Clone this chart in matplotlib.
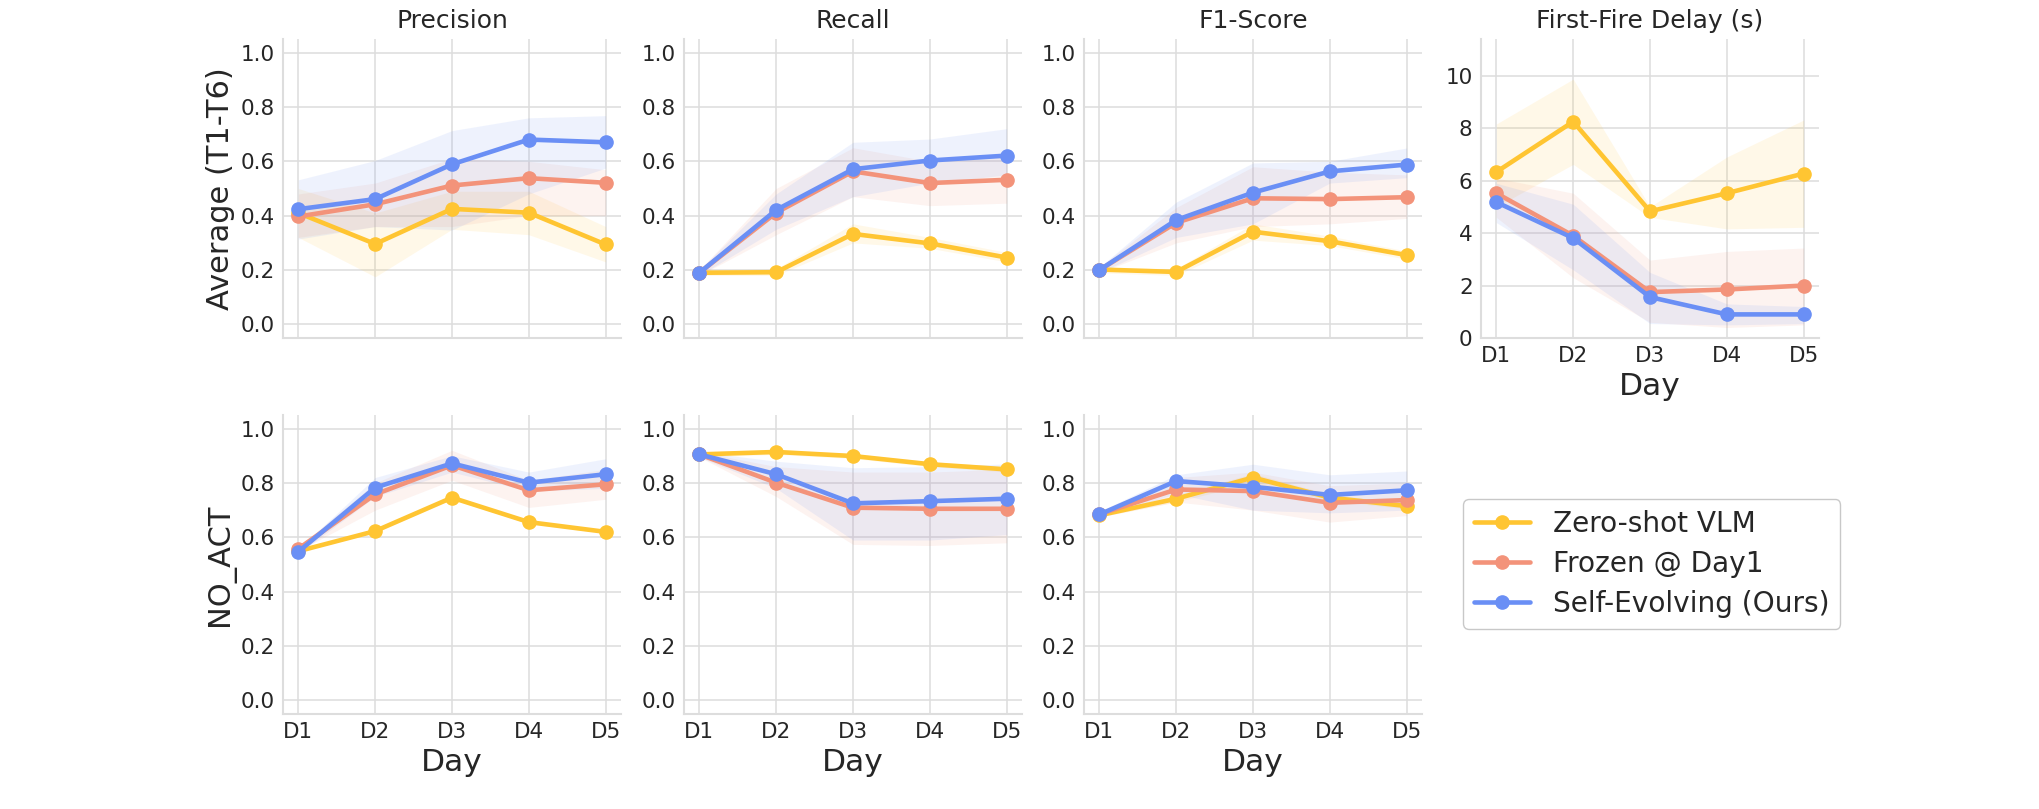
import matplotlib
matplotlib.use("Agg")
import matplotlib.pyplot as plt
import seaborn as sns

sns.set_style("whitegrid")
plt.rcParams["font.family"] = ["DejaVu Sans"]

days = ["D1", "D2", "D3", "D4", "D5"]
methods = ["Zero-shot VLM", "Frozen @ Day1", "Self-Evolving (Ours)"]
colors = ["#FFC532", "#F3937A", "#6A8FF5"]

# mean values per method (zero-shot, frozen, self-evolving)
avg_precision = [[0.41, 0.296, 0.425, 0.411, 0.294],
                 [0.397, 0.442, 0.511, 0.538, 0.521],
                 [0.424, 0.461, 0.589, 0.680, 0.670]]
avg_precision_lo = [[0.32, 0.175, 0.35, 0.33, 0.23],
                    [0.32, 0.36, 0.36, 0.40, 0.40],
                    [0.314, 0.36, 0.347, 0.48, 0.575]]
avg_precision_hi = [[0.50, 0.41, 0.49, 0.49, 0.36],
                    [0.48, 0.52, 0.61, 0.60, 0.569],
                    [0.532, 0.603, 0.713, 0.76, 0.768]]

avg_recall = [[0.19, 0.192, 0.333, 0.298, 0.246],
              [0.19, 0.411, 0.563, 0.520, 0.532],
              [0.19, 0.421, 0.571, 0.603, 0.621]]
avg_recall_lo = [[0.18, 0.18, 0.30, 0.28, 0.23],
                 [0.18, 0.33, 0.47, 0.437, 0.446],
                 [0.18, 0.35, 0.47, 0.52, 0.55]]
avg_recall_hi = [[0.20, 0.205, 0.37, 0.32, 0.265],
                 [0.20, 0.50, 0.65, 0.60, 0.62],
                 [0.20, 0.48, 0.67, 0.682, 0.72]]

avg_f1 = [[0.202, 0.193, 0.341, 0.306, 0.255],
          [0.20, 0.374, 0.464, 0.461, 0.468],
          [0.20, 0.384, 0.485, 0.563, 0.588]]
avg_f1_lo = [[0.19, 0.18, 0.31, 0.29, 0.24],
             [0.19, 0.30, 0.36, 0.37, 0.39],
             [0.19, 0.32, 0.37, 0.52, 0.54]]
avg_f1_hi = [[0.21, 0.205, 0.37, 0.325, 0.27],
             [0.21, 0.43, 0.58, 0.56, 0.55],
             [0.21, 0.45, 0.594, 0.60, 0.649]]

delay = [[6.33, 8.25, 4.83, 5.52, 6.27],
         [5.52, 3.90, 1.75, 1.85, 2.00],
         [5.18, 3.81, 1.56, 0.90, 0.90]]
delay_lo = [[5.0, 6.62, 4.6, 4.16, 4.22],
            [4.6, 2.3, 0.6, 0.4, 0.5],
            [4.4, 2.6, 0.55, 0.5, 0.55]]
delay_hi = [[8.16, 9.87, 5.0, 6.9, 8.31],
            [6.1, 5.52, 2.97, 3.3, 3.43],
            [5.9, 5.1, 2.5, 1.3, 1.2]]

noact_precision = [[0.549, 0.623, 0.746, 0.656, 0.620],
                   [0.558, 0.758, 0.865, 0.773, 0.795],
                   [0.547, 0.783, 0.872, 0.801, 0.832]]
noact_precision_lo = [[0.545, 0.618, 0.74, 0.65, 0.615],
                      [0.55, 0.70, 0.81, 0.71, 0.74],
                      [0.54, 0.75, 0.84, 0.77, 0.78]]
noact_precision_hi = [[0.553, 0.628, 0.752, 0.662, 0.625],
                      [0.565, 0.80, 0.92, 0.81, 0.85],
                      [0.555, 0.82, 0.90, 0.84, 0.889]]

noact_recall = [[0.905, 0.914, 0.899, 0.869, 0.850],
                [0.905, 0.801, 0.709, 0.705, 0.705],
                [0.905, 0.832, 0.725, 0.733, 0.742]]
noact_recall_lo = [[0.895, 0.905, 0.89, 0.86, 0.84],
                   [0.895, 0.75, 0.574, 0.57, 0.58],
                   [0.895, 0.78, 0.59, 0.59, 0.61]]
noact_recall_hi = [[0.915, 0.922, 0.908, 0.878, 0.86],
                   [0.915, 0.86, 0.84, 0.84, 0.85],
                   [0.915, 0.88, 0.856, 0.86, 0.87]]

noact_f1 = [[0.681, 0.742, 0.820, 0.746, 0.715],
            [0.685, 0.776, 0.770, 0.727, 0.737],
            [0.684, 0.807, 0.786, 0.756, 0.773]]
noact_f1_lo = [[0.675, 0.73, 0.80, 0.735, 0.705],
               [0.675, 0.73, 0.70, 0.656, 0.68],
               [0.675, 0.76, 0.70, 0.69, 0.70]]
noact_f1_hi = [[0.69, 0.755, 0.835, 0.758, 0.725],
               [0.695, 0.82, 0.84, 0.79, 0.80],
               [0.695, 0.83, 0.869, 0.83, 0.844]]

W, H = 2040, 809
fig = plt.figure(figsize=(W / 100, H / 100), dpi=100)

col_left = [283, 684, 1084, 1481]
ax_w = 338
row_top = [39, 415]
ax_h = 299

TXT = "#262626"


def make_ax(col, row):
    x0 = col_left[col] / W
    y0 = 1 - (row_top[row] + ax_h) / H
    return fig.add_axes([x0, y0, ax_w / W, ax_h / H])


def draw(ax, means, lows, highs):
    xs = list(range(len(days)))
    for m, lo, hi, c, name in zip(means, lows, highs, colors, methods):
        ax.fill_between(xs, lo, hi, color=c, alpha=0.11, linewidth=0)
        ax.plot(xs, m, color=c, lw=3.3, marker="o", ms=9.5, label=name)
    ax.set_xticks(xs)
    ax.set_xlim(-0.2, 4.2)
    ax.tick_params(axis="both", labelsize=15.5, colors=TXT, length=0, pad=6)
    ax.grid(True, color="#dddddd", lw=1.1)
    for s in ["top", "right"]:
        ax.spines[s].set_visible(False)
    for s in ["left", "bottom"]:
        ax.spines[s].set_color("#dddddd")
        ax.spines[s].set_linewidth(1.5)


panels_top = [("Precision", avg_precision, avg_precision_lo, avg_precision_hi),
              ("Recall", avg_recall, avg_recall_lo, avg_recall_hi),
              ("F1-Score", avg_f1, avg_f1_lo, avg_f1_hi)]
panels_bot = [(noact_precision, noact_precision_lo, noact_precision_hi),
              (noact_recall, noact_recall_lo, noact_recall_hi),
              (noact_f1, noact_f1_lo, noact_f1_hi)]

for i, (title, m, lo, hi) in enumerate(panels_top):
    ax = make_ax(i, 0)
    draw(ax, m, lo, hi)
    ax.set_ylim(-0.05, 1.05)
    ax.set_yticks([0, 0.2, 0.4, 0.6, 0.8, 1.0])
    ax.set_xticklabels([])
    ax.set_title(title, fontsize=18, color=TXT, pad=8)
    if i == 0:
        ax.set_ylabel("Average (T1-T6)", fontsize=22, color=TXT)

for i, (m, lo, hi) in enumerate(panels_bot):
    ax = make_ax(i, 1)
    draw(ax, m, lo, hi)
    ax.set_ylim(-0.05, 1.05)
    ax.set_yticks([0, 0.2, 0.4, 0.6, 0.8, 1.0])
    ax.set_xticklabels(days)
    ax.set_xlabel("Day", fontsize=22.5, color=TXT, labelpad=4)
    if i == 0:
        ax.set_ylabel("NO_ACT", fontsize=22, color=TXT)

ax = make_ax(3, 0)
draw(ax, delay, delay_lo, delay_hi)
ax.set_ylim(0, 11.4)
ax.set_yticks([0, 2, 4, 6, 8, 10])
ax.set_xticklabels(days)
ax.set_xlabel("Day", fontsize=22.5, color=TXT, labelpad=4)
ax.set_title("First-Fire Delay (s)", fontsize=18, color=TXT, pad=8)

handles, labels = ax.get_legend_handles_labels()
leg = fig.legend(handles, labels, loc="upper left",
                 bbox_to_anchor=(1463 / W, 1 - 499 / H),
                 fontsize=20.2, frameon=True, borderaxespad=0,
                 handlelength=2.0, labelspacing=0.42)
leg.get_frame().set_edgecolor("#bbbbbb")
for t in leg.get_texts():
    t.set_color(TXT)

fig.savefig("out.png", dpi=100)
